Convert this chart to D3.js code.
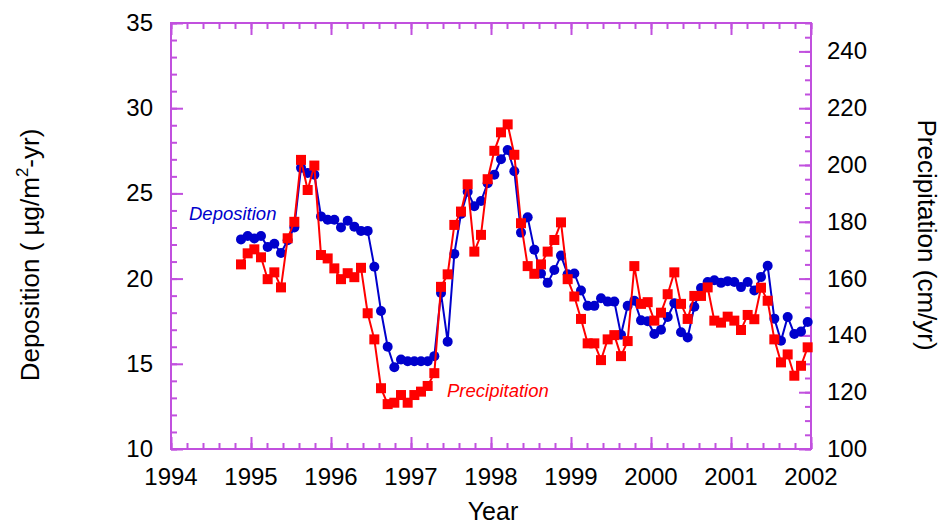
<!DOCTYPE html>
<meta charset="utf-8">
<html>

<head>
    <meta charset="UTF-8">
    <title>Deposition and Precipitation</title>
</head>
<style>
    body {
        margin: 0;
        background: white;
    }

    text {
        font-family: "Liberation Sans", Arial, sans-serif;
    }
</style>

<body>

    <!-- Create a div where the graph will take place -->
    <div id="my_dataviz"></div>

    <!-- Load d3.js -->
    <script src="https://d3js.org/d3.v7.min.js"></script>

    <script>
    // monthly values, first point is Nov 1994, last point is Dec 2001
    var firstYear = 1994, firstMonth = 10;

    // deposition (ug/m2-yr), left axis
    var deposition = [22.3, 22.5, 22.35, 22.5, 21.85, 22.05, 21.5, 22.25, 23.0, 26.5,
        26.2, 26.1, 23.65, 23.45, 23.45, 23.0, 23.4, 23.05, 22.8, 22.8,
        20.7, 18.1, 16.0, 14.8, 15.25, 15.15, 15.15, 15.15, 15.15, 15.45,
        19.15, 16.3, 21.45, 23.8, 25.1, 24.25, 24.55, 25.6, 26.1, 27.0,
        27.55, 26.3, 22.7, 23.6, 21.7, 20.3, 19.75, 20.5, 21.35, 20.25,
        20.3, 19.3, 18.4, 18.4, 18.85, 18.65, 18.65, 16.7, 18.4, 18.7,
        17.55, 17.5, 16.75, 17.0, 17.75, 18.55, 16.85, 16.55, 18.35, 19.45,
        19.8, 19.9, 19.75, 19.85, 19.8, 19.5, 19.8, 19.3, 20.1, 20.75,
        17.65, 16.35, 17.75, 16.75, 16.9, 17.45];

    // precipitation (cm/yr), right axis
    var precipitation = [165.0, 168.9, 170.3, 167.5, 159.8, 162.2, 156.9, 174.2, 180.0, 201.8,
        191.2, 199.8, 168.3, 167.1, 163.6, 159.8, 161.9, 160.5, 163.8, 147.8,
        138.6, 121.4, 115.8, 116.3, 119.0, 116.3, 119.0, 120.2, 122.2, 126.7,
        157.1, 161.5, 178.9, 183.6, 193.2, 169.5, 175.4, 195.0, 205.0, 211.5,
        214.3, 203.6, 179.5, 164.4, 161.7, 165.0, 169.5, 173.6, 179.8, 159.8,
        153.7, 145.8, 137.2, 137.2, 131.3, 138.6, 140.1, 132.7, 138.0, 164.4,
        151.1, 151.7, 145.2, 148.0, 154.5, 162.2, 151.1, 145.8, 153.9, 153.9,
        156.9, 145.2, 144.5, 146.6, 145.2, 141.9, 147.2, 145.7, 156.8, 152.2,
        138.6, 130.5, 133.3, 125.8, 129.3, 135.8];

    // tick labels
    var yearTicks = [1994, 1995, 1996, 1997, 1998, 1999, 2000, 2001, 2002];
    var depTicks = [10, 15, 20, 25, 30, 35];
    var precTicks = [100, 120, 140, 160, 180, 200, 220, 240];

    var axisColor = "#c150de";
    var blue = "#0000cc";
    var red = "#ff0000";

    // plot box
    var boxLeft = 171, boxRight = 811, boxTop = 23, boxBottom = 449;

    var svg = d3.select("#my_dataviz")
        .append("svg")
        .attr("width", 947)
        .attr("height", 525);

    // scales
    var x = d3.scaleLinear().domain([1994, 2002]).range([boxLeft, boxRight]);
    var yL = d3.scaleLinear().domain([10, 35]).range([boxBottom, boxTop]);
    var yR = d3.scaleLinear().domain([100, 250]).range([boxBottom, boxTop]);

    // month -> decimal year (middle of month)
    function monthDate(i) {
        return firstYear + (firstMonth + i + 0.5) / 12;
    }

    // axes, ticks inside the box
    function styleAxis(g) {
        g.select(".domain").remove();
        g.selectAll("line").attr("stroke", axisColor).attr("stroke-width", 2);
        g.selectAll("text").remove();
    }
    var xMinor = d3.range(1994, 2002.001, 0.2);
    var depMinor = d3.range(10, 35.001, 1);
    var precMinor = d3.range(100, 250.001, 5);

    // bottom
    svg.append("g").attr("transform", "translate(0," + boxBottom + ")")
        .call(d3.axisTop(x).tickValues(xMinor).tickSize(6).tickFormat("")).call(styleAxis);
    svg.append("g").attr("transform", "translate(0," + boxBottom + ")")
        .call(d3.axisTop(x).tickValues(yearTicks).tickSize(12).tickFormat("")).call(styleAxis);
    // top
    svg.append("g").attr("transform", "translate(0," + boxTop + ")")
        .call(d3.axisBottom(x).tickValues(xMinor).tickSize(6).tickFormat("")).call(styleAxis);
    svg.append("g").attr("transform", "translate(0," + boxTop + ")")
        .call(d3.axisBottom(x).tickValues(yearTicks).tickSize(12).tickFormat("")).call(styleAxis);
    // left
    svg.append("g").attr("transform", "translate(" + boxLeft + ",0)")
        .call(d3.axisRight(yL).tickValues(depMinor).tickSize(6).tickFormat("")).call(styleAxis);
    svg.append("g").attr("transform", "translate(" + boxLeft + ",0)")
        .call(d3.axisRight(yL).tickValues(depTicks).tickSize(12).tickFormat("")).call(styleAxis);
    // right
    svg.append("g").attr("transform", "translate(" + boxRight + ",0)")
        .call(d3.axisLeft(yR).tickValues(precMinor).tickSize(6).tickFormat("")).call(styleAxis);
    svg.append("g").attr("transform", "translate(" + boxRight + ",0)")
        .call(d3.axisLeft(yR).tickValues(precTicks).tickSize(12).tickFormat("")).call(styleAxis);

    // frame
    svg.append("rect")
        .attr("x", boxLeft).attr("y", boxTop)
        .attr("width", boxRight - boxLeft).attr("height", boxBottom - boxTop)
        .attr("fill", "none")
        .attr("stroke", axisColor)
        .attr("stroke-width", 2);

    // tick labels
    svg.append("g").selectAll("text").data(yearTicks).enter().append("text")
        .attr("x", function (d) { return x(d); })
        .attr("y", boxBottom + 36)
        .attr("text-anchor", "middle")
        .attr("font-size", 24)
        .text(function (d) { return d; });
    svg.append("g").selectAll("text").data(depTicks).enter().append("text")
        .attr("x", boxLeft - 18)
        .attr("y", function (d) { return yL(d) + 8; })
        .attr("text-anchor", "end")
        .attr("font-size", 24)
        .text(function (d) { return d; });
    svg.append("g").selectAll("text").data(precTicks).enter().append("text")
        .attr("x", boxRight + 16)
        .attr("y", function (d) { return yR(d) + 8; })
        .attr("text-anchor", "start")
        .attr("font-size", 24)
        .text(function (d) { return d; });

    // axis titles
    svg.append("text")
        .attr("x", 493)
        .attr("y", 520)
        .attr("text-anchor", "middle")
        .attr("font-size", 25)
        .text("Year");

    var lt = svg.append("text")
        .attr("transform", "translate(39,255) rotate(-90)")
        .attr("text-anchor", "middle")
        .attr("font-size", 26)
        .style("white-space", "pre");
    lt.append("tspan").text("Deposition ( \u00b5g/m");
    lt.append("tspan").attr("dy", -11).attr("font-size", 17).text("2");
    lt.append("tspan").attr("dy", 11).text("-yr)");

    svg.append("text")
        .attr("transform", "translate(918,235) rotate(90)")
        .attr("text-anchor", "middle")
        .attr("font-size", 26)
        .text("Precipitation (cm/yr)");

    // series
    var line = d3.line()
        .x(function (d, i) { return x(monthDate(i)); });

    // deposition: blue circles
    svg.append("path")
        .datum(deposition)
        .attr("d", line.y(function (d) { return yL(d); }))
        .attr("fill", "none")
        .attr("stroke", blue)
        .attr("stroke-width", 2);
    svg.append("g").selectAll("circle").data(deposition).enter().append("circle")
        .attr("cx", function (d, i) { return x(monthDate(i)); })
        .attr("cy", function (d) { return yL(d); })
        .attr("r", 5)
        .attr("fill", blue);

    // precipitation: red squares
    svg.append("path")
        .datum(precipitation)
        .attr("d", line.y(function (d) { return yR(d); }))
        .attr("fill", "none")
        .attr("stroke", red)
        .attr("stroke-width", 2);
    svg.append("g").selectAll("rect").data(precipitation).enter().append("rect")
        .attr("x", function (d, i) { return x(monthDate(i)) - 5; })
        .attr("y", function (d) { return yR(d) - 5; })
        .attr("width", 10)
        .attr("height", 10)
        .attr("fill", red);

    // labels on the lines
    svg.append("text")
        .attr("x", 189).attr("y", 220)
        .attr("font-size", 18.5)
        .attr("font-style", "italic")
        .attr("fill", blue)
        .text("Deposition");
    svg.append("text")
        .attr("x", 447).attr("y", 397)
        .attr("font-size", 18.5)
        .attr("font-style", "italic")
        .attr("fill", red)
        .text("Precipitation");
    </script>
</body>

</html>
